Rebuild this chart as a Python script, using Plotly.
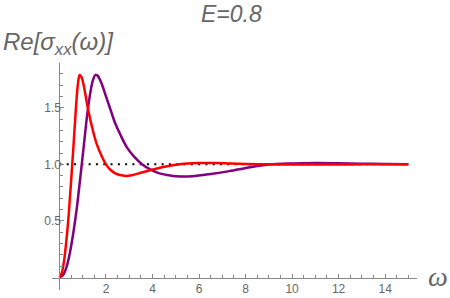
import plotly.graph_objects as go

# Red curve
x_red = [0, 0.1, 0.2, 0.3, 0.4, 0.5, 0.6, 0.7, 0.8, 0.87, 0.95, 1.05, 1.2, 1.4, 1.6, 1.8, 2.0, 2.2, 2.4,
         2.6, 2.85, 3.1, 3.5, 3.9, 4.4, 5.0, 5.5, 6.0, 6.7, 7.3, 8.0, 9.0, 10, 11, 12, 13, 14, 15]
y_red = [0, 0.04, 0.15, 0.33, 0.56, 0.85, 1.15, 1.47, 1.72, 1.79, 1.77, 1.69, 1.52, 1.33, 1.18, 1.08, 1.0, 0.95, 0.92,
         0.905, 0.898, 0.903, 0.925, 0.948, 0.975, 0.997, 1.008, 1.012, 1.012, 1.008, 1.004, 1.0, 0.998, 0.998, 0.999, 1.0, 1.0, 1.0]

# Purple curve
x_purple = [0, 0.15, 0.3, 0.45, 0.6, 0.75, 0.9, 1.05, 1.2, 1.35, 1.45, 1.55, 1.65, 1.8, 2.0, 2.2, 2.4, 2.6,
            2.9, 3.2, 3.55, 3.9, 4.3, 4.8, 5.2, 5.7, 6.5, 7.3, 8.2, 9.0, 10, 11, 12, 13, 14, 15]
y_purple = [0, 0.02, 0.09, 0.22, 0.40, 0.62, 0.89, 1.17, 1.45, 1.66, 1.75, 1.79, 1.78, 1.72, 1.6, 1.48, 1.36, 1.27,
            1.15, 1.07, 1.0, 0.955, 0.92, 0.9, 0.892, 0.895, 0.915, 0.94, 0.975, 0.998, 1.008, 1.012, 1.01, 1.006, 1.003, 1.001]

# Reference line
x_ref = [0, 15]
y_ref = [1, 1]

x_tickvals = [2, 4, 6, 8, 10, 12, 14]
x_minor = [v * 0.5 for v in range(1, 31) if v % 4 != 0]
y_tickvals = [0.5, 1.0, 1.5]
y_ticktext = ["0.5", "1.0", "1.5"]
y_minor = [v / 10 for v in range(1, 19) if v % 5 != 0]

title_text = "E=0.8"
ylabel_text = "Re[σ<sub>xx</sub>(ω)]"
xlabel_text = "ω"

XR = [-0.32, 15.37]
YR = [-0.11, 1.895]

fig = go.Figure()
fig.add_trace(go.Scatter(x=x_ref, y=y_ref, mode="lines",
                         line=dict(color="black", width=2, dash="2px,5.3px"), hoverinfo="skip"))
fig.add_trace(go.Scatter(x=x_purple, y=y_purple, mode="lines", line=dict(color="#800080", width=2.5, shape="spline")))
fig.add_trace(go.Scatter(x=x_red, y=y_red, mode="lines", line=dict(color="#FF0000", width=2.5, shape="spline")))

axcol = "#888888"
tickfont = dict(family="Liberation Sans, Arial, sans-serif", size=12, color="#666666")

fig.update_layout(
    width=450, height=298,
    margin=dict(l=52, r=33, t=63, b=8, autoexpand=False),
    paper_bgcolor="white", plot_bgcolor="white",
    showlegend=False,
    xaxis=dict(range=XR, showgrid=False, zeroline=False, showline=True, linecolor=axcol, linewidth=1,
               anchor="free", position=(0 - YR[0]) / (YR[1] - YR[0]),
               tickmode="array", tickvals=x_tickvals, ticks="inside", ticklen=4, tickcolor=axcol,
               tickfont=tickfont, automargin=False,
               minor=dict(tickmode="array", tickvals=x_minor, ticks="inside", ticklen=2.5, tickcolor=axcol)),
    yaxis=dict(range=YR, showgrid=False, zeroline=False, showline=True, linecolor=axcol, linewidth=1,
               anchor="free", position=(0 - XR[0]) / (XR[1] - XR[0]),
               tickmode="array", tickvals=y_tickvals, ticktext=y_ticktext, ticks="inside", ticklen=4,
               tickcolor=axcol, tickfont=tickfont, automargin=False, ticklabelstandoff=-4,
               minor=dict(tickmode="array", tickvals=y_minor, ticks="inside", ticklen=2.5, tickcolor=axcol)),
    annotations=[
        dict(text="<i>" + title_text + "</i>", xref="paper", yref="paper", x=0.5, xshift=-3, y=1.0, yshift=49,
             xanchor="center", yanchor="middle", showarrow=False,
             font=dict(family="Liberation Sans, Arial, sans-serif", size=23, color="#666666")),
        dict(text="<i>" + ylabel_text + "</i>", xref="paper", yref="paper", x=0, xshift=-51, y=1.0, yshift=20,
             xanchor="left", yanchor="middle", showarrow=False,
             font=dict(family="Liberation Sans, Arial, sans-serif", size=24, color="#666666")),
        dict(text="<i>" + xlabel_text + "</i>", xref="paper", yref="paper", x=1.0, xshift=21,
             y=(0 - YR[0]) / (YR[1] - YR[0]), yshift=1,
             xanchor="center", yanchor="middle", showarrow=False,
             font=dict(family="Liberation Serif, Times New Roman, serif", size=28, color="#666666")),
    ],
)

fig.write_html("out.html", config={"displayModeBar": False},
               post_script="document.body.style.margin='0';document.body.style.overflow='hidden';")
